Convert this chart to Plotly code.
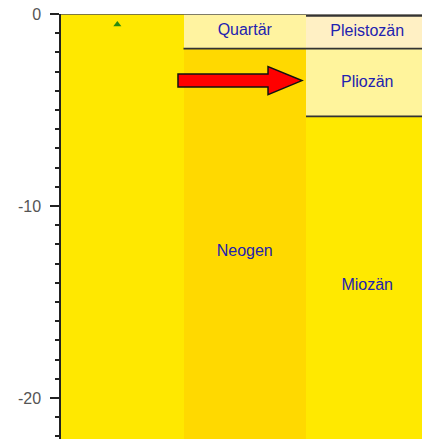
import plotly.graph_objects as go

# ---- data (Ma) ----
col_index = [0, 1, 1, 2, 2, 2, 2]
unit_names = ["Känozoikum", "Quartär", "Neogen", "Holozän", "Pleistozän", "Pliozän", "Miozän"]
unit_start = [0.0, 0.0, 1.806, 0.0, 0.1, 1.806, 5.332]
unit_end = [66.0, 1.806, 23.03, 0.1, 1.806, 5.332, 23.03]
unit_colors = ["#FFE800", "#FFF3A0", "#FFD900", "#FFF8E0", "#FFF0C4", "#FFF49C", "#FFE900"]
unit_labels = ["", "Quartär", "Neogen", "", "Pleistozän", "Pliozän", "Miozän"]
bordered = [False, True, False, True, True, True, True]

marker_col = [0.46]
marker_age = [0.55]

y_ticks = [0, -10, -20]
y_tick_text = ["0", "-10", "-20"]

fig = go.Figure()

# boxes as bars
for i in range(len(unit_names)):
    fig.add_trace(go.Bar(
        x=[col_index[i] + 0.5], y=[unit_end[i] - unit_start[i]], base=[-unit_end[i]],
        width=[1.0], marker=dict(color=unit_colors[i], line=dict(width=0)),
        hoverinfo="skip", showlegend=False))

# boundary lines
for i in range(len(unit_names)):
    if bordered[i]:
        c = col_index[i]
        fig.add_trace(go.Scatter(
            x=[c, c + 1], y=[-unit_end[i], -unit_end[i]], mode="lines",
            line=dict(color="#333333", width=1.6), hoverinfo="skip", showlegend=False))

# labels
lx, ly, lt = [], [], []
for i in range(len(unit_names)):
    if unit_labels[i]:
        lx.append(col_index[i] + 0.5)
        ly.append(-(unit_start[i] + unit_end[i]) / 2)
        lt.append(unit_labels[i])
fig.add_trace(go.Scatter(
    x=lx, y=ly, text=lt, mode="text",
    textfont=dict(family="Liberation Sans, Arial, sans-serif", size=16, color="#2222B0"),
    hoverinfo="skip", showlegend=False))

# green marker
fig.add_trace(go.Scatter(
    x=marker_col, y=[-a for a in marker_age], mode="markers",
    marker=dict(symbol="triangle-up", size=7, color="#2A8A10"),
    hoverinfo="skip", showlegend=False))

# arrow pointing at Pliozän
ay = -(unit_start[5] + unit_end[5]) / 2 + 0.1
x_tail, x_head, x_tip = 0.955, 1.69, 1.967
bh, hh = 0.34, 0.73
path = (f"M {x_tail},{ay + bh} L {x_head},{ay + bh} L {x_head},{ay + hh} L {x_tip},{ay} "
        f"L {x_head},{ay - hh} L {x_head},{ay - bh} L {x_tail},{ay - bh} Z")
fig.add_shape(type="path", path=path, xref="x", yref="y",
              fillcolor="#FF0000", line=dict(color="#111111", width=1.5), layer="above")

# top border
fig.add_shape(type="line", xref="paper", yref="y", x0=0, x1=1, y0=0, y1=0,
              line=dict(color="#555555", width=1.5), layer="above")

fig.update_layout(
    width=422, height=439,
    margin=dict(l=61, r=0, t=14, b=0),
    paper_bgcolor="white", plot_bgcolor="white",
    barmode="overlay", bargap=0,
    xaxis=dict(range=[0, 2.947], visible=False, fixedrange=True),
    yaxis=dict(range=[-22.14, 0], showgrid=False, zeroline=False,
               showline=True, linecolor="#222222", linewidth=1.5,
               ticks="outside", ticklen=9, tickwidth=1.5, tickcolor="#222222",
               tickvals=y_ticks, ticktext=y_tick_text,
               tickfont=dict(family="Liberation Sans, Arial, sans-serif", size=16, color="#555555"),
               ticklabelstandoff=6, ticklabeloverflow="allow",
               minor=dict(dtick=1, tick0=0, ticks="outside", ticklen=4,
                          tickwidth=1.5, tickcolor="#222222", showgrid=False)),
)

fig.write_html("out.html", config={"displayModeBar": False},
               post_script="document.body.style.margin='0';document.body.style.overflow='hidden';")
